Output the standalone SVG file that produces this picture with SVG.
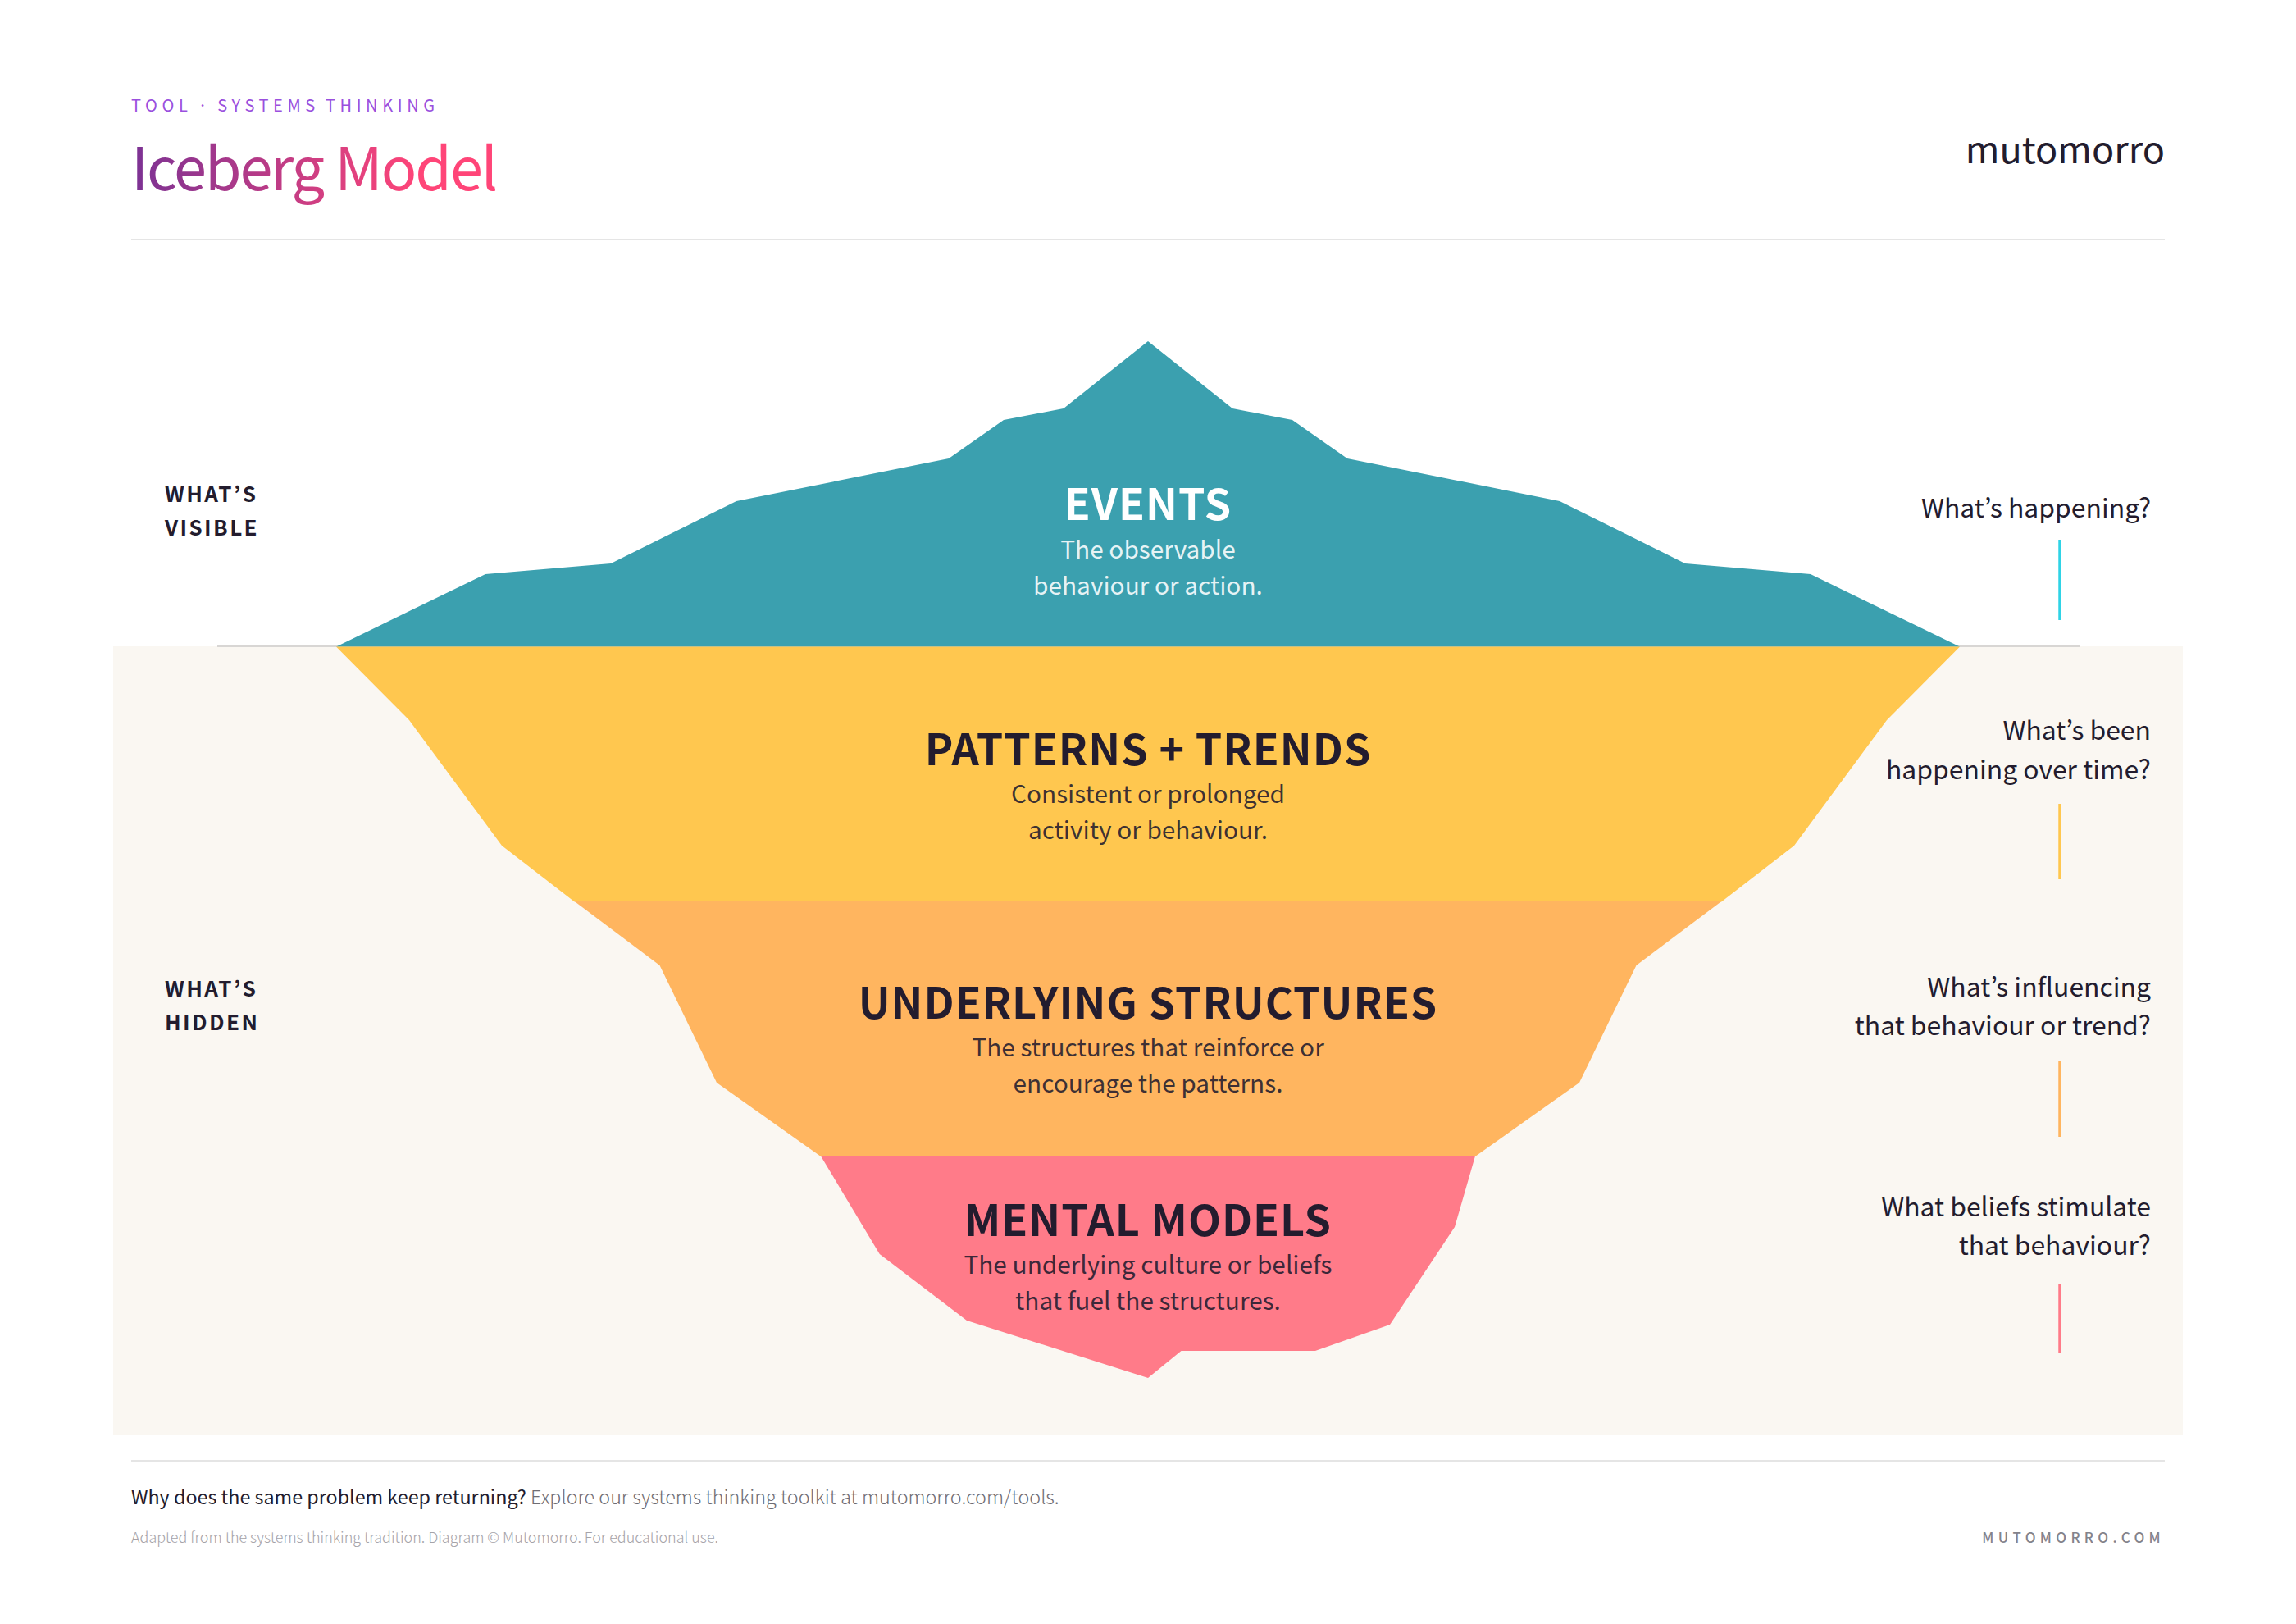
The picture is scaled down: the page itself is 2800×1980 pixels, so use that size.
<svg xmlns="http://www.w3.org/2000/svg" width="2800" height="1980" viewBox="0 0 2800 1980">
<style>
text{font-family:"Noto Sans CJK KR","Noto Sans CJK JP","Noto Sans",sans-serif;fill:#231c2e}
.title{font-size:52px;font-weight:700;letter-spacing:1px;text-anchor:middle}
.sub{font-size:29.8px;text-anchor:middle;fill-opacity:.88}
.q{font-size:31.9px;text-anchor:end}
.side{font-size:26px;font-weight:700;letter-spacing:2.4px}
.rule{stroke:#e5e5e5;stroke-width:2}
.tick{stroke-width:3.5}
</style>
<defs><linearGradient id="tg" gradientUnits="userSpaceOnUse" x1="160" y1="0" x2="510" y2="0"><stop offset="0" stop-color="#7b3294"/><stop offset="1" stop-color="#ff4578"/></linearGradient></defs>
<rect width="2800" height="1980" fill="#fff"/>
<g id="header">
<text x="160" y="136" font-size="20" letter-spacing="5.6" word-spacing="-3" style="fill:#9a50de">TOOL · SYSTEMS THINKING</text>
<text x="160" y="232" font-size="72" letter-spacing="-2" style="fill:url(#tg)">Iceberg Model</text>
<text x="2640" y="199" font-size="45" text-anchor="end">mutomorro</text>
<line class="rule" x1="160" y1="292" x2="2640" y2="292"/>
</g>
<rect id="water" x="138" y="788" width="2524" height="962" fill="#faf7f2"/>
<line id="waterline" x1="265" y1="788" x2="2536" y2="788" stroke="#d8d6d4" stroke-width="2"/>
<g id="side-labels">
<text class="side" x="201" y="612">WHAT’S</text><text class="side" x="201" y="653">VISIBLE</text>
<text class="side" x="201" y="1215">WHAT’S</text><text class="side" x="201" y="1256">HIDDEN</text>
</g>
<g id="events">
<polygon fill="#3ba0af" points="410,788.5 592,700 745,687 898,611 1157,559 1224,512 1297,498 1400,416 1503,498 1576,512 1643,559 1902,611 2055,687 2208,700 2390,788.5"/>
<text class="title" x="1400" y="634" style="fill:#fff">EVENTS</text>
<text class="sub" x="1400" y="680.5" style="fill:#fff">The observable</text>
<text class="sub" x="1400" y="725" style="fill:#fff">behaviour or action.</text>
</g>
<g id="patterns">
<polygon fill="#ffc74f" points="410,788.5 2390,788.5 2301,878 2188,1031 2099.3,1099.5 700.7,1099.5 612,1031 499,878"/>
<text class="title" x="1400" y="932.5">PATTERNS + TRENDS</text>
<text class="sub" x="1400" y="978.5">Consistent or prolonged</text>
<text class="sub" x="1400" y="1023">activity or behaviour.</text>
</g>
<g id="structures">
<polygon fill="#ffb55f" points="700.7,1099 2099.3,1099 1995.5,1177 1926,1320 1799,1410 1001,1410 874,1320 804.5,1177"/>
<text class="title" x="1400" y="1241.5">UNDERLYING STRUCTURES</text>
<text class="sub" x="1400" y="1287.5">The structures that reinforce or</text>
<text class="sub" x="1400" y="1332">encourage the patterns.</text>
</g>
<g id="mental">
<polygon fill="#ff7b89" points="1001,1409.5 1799,1409.5 1774,1496 1695,1615 1604,1647 1440.5,1647 1400,1680 1179,1610 1072.7,1529"/>
<text class="title" x="1400" y="1506.5">MENTAL MODELS</text>
<text class="sub" x="1400" y="1552.5">The underlying culture or beliefs</text>
<text class="sub" x="1400" y="1597">that fuel the structures.</text>
</g>
<g id="questions">
<text class="q" x="2623" y="631">What’s happening?</text>
<text class="q" x="2623" y="902">What’s been</text><text class="q" x="2623" y="950">happening over time?</text>
<text class="q" x="2623" y="1215">What’s influencing</text><text class="q" x="2623" y="1262">that behaviour or trend?</text>
<text class="q" x="2623" y="1483">What beliefs stimulate</text><text class="q" x="2623" y="1530">that behaviour?</text>
</g>
<g id="connectors">
<line class="tick" stroke="#2fd3e6" x1="2512" y1="658" x2="2512" y2="756"/>
<line class="tick" stroke="#ffc74f" x1="2512" y1="980" x2="2512" y2="1072"/>
<line class="tick" stroke="#ffb55f" x1="2512" y1="1293" x2="2512" y2="1386"/>
<line class="tick" stroke="#ff7b89" x1="2512" y1="1565" x2="2512" y2="1650"/>
</g>
<g id="footer">
<line class="rule" x1="160" y1="1781" x2="2640" y2="1781"/>
<text x="160" y="1834" font-size="23.3">Why does the same problem keep returning? <tspan font-weight="300" style="fill:#6f6d74">Explore our systems thinking toolkit at mutomorro.com/tools.</tspan></text>
<text x="160" y="1880.5" font-size="17.93" font-weight="300" style="fill:#a5a3a9">Adapted from the systems thinking tradition. Diagram © Mutomorro. For educational use.</text>
<text x="2640" y="1881" font-size="17" font-weight="500" letter-spacing="5.3" text-anchor="end" style="fill:#83838b">MUTOMORRO.COM</text>
</g>
</svg>
